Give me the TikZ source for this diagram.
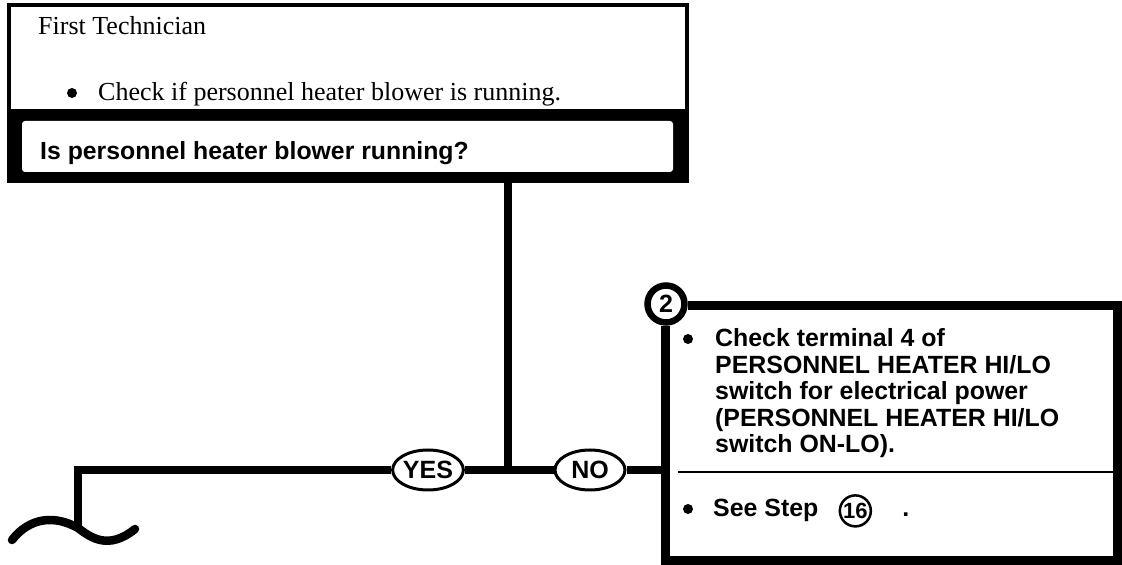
\documentclass[tikz,border=0pt]{standalone}
\usepackage{fontspec}
\setmainfont{Liberation Serif}
\setsansfont{Liberation Sans}
\usetikzlibrary{positioning, calc, shapes.geometric, backgrounds}

\begin{document}
\begin{tikzpicture}[
  x=1pt, y=1pt,
  conn/.style    ={line width=8.5pt, draw=black},
  taskbox/.style ={rectangle, draw=black, line width=3.5pt, minimum width=678pt, minimum height=106pt, inner sep=0pt},
  querybox/.style={rectangle, rounded corners=3pt, fill=white, minimum width=651pt, minimum height=51pt, inner sep=0pt},
  answer/.style  ={ellipse, draw=black, line width=3pt, fill=white, minimum width=70pt, minimum height=40pt, inner sep=0pt, font=\sffamily\bfseries\fontsize{25}{25}\selectfont},
  stepnum/.style ={circle, draw=black, line width=6.5pt, fill=white, minimum size=37pt, inner sep=0pt, font=\sffamily\bfseries\fontsize{25}{25}\selectfont},
  refnum/.style  ={circle, draw=black, line width=2.5pt, minimum size=31pt, inner sep=0pt, font=\sffamily\bfseries\fontsize{22}{22}\selectfont},
  dotmark/.style ={circle, fill=black, minimum size=10pt, inner sep=0pt},
  plaintxt/.style={anchor=base west, inner sep=0pt, font=\rmfamily\fontsize{26}{30}\selectfont},
  querytxt/.style={anchor=base west, inner sep=0pt, font=\sffamily\bfseries\fontsize{24.8}{28}\selectfont},
  boldtxt/.style ={anchor=base west, inner sep=0pt, font=\sffamily\bfseries\fontsize{24.9}{26.5}\selectfont},
  rule/.style    ={line width=1.5pt, draw=black}
]
\useasboundingbox (0,0) rectangle (1122,565);

% ---- first technician task + question ----
\node[taskbox] (task) at (348,507) {};
\node[plaintxt] (who) at (38,530) {First Technician};
\node[dotmark] (taskdot) at (72,472) {};
\node[plaintxt] (tasktxt) at (98,464) {Check if personnel heater blower is running.};

\node[querybox] (query) at (347.5,418.5) {};
\begin{scope}[on background layer]
  \fill[black] ($(query.north west)+(-14.5,11)$) rectangle ($(query.south east)+(16,-11)$);
\end{scope}
\node[querytxt] (qtxt) at (40,405) {Is personnel heater blower running?};

% ---- answers ----
\coordinate (jn) at (508,95);
\coordinate (brk) at (78,37);
\node[answer] (yes) at (428,95) {YES};
\node[answer] (no)  at (590,95) {NO};

% ---- step 2 ----
\node[rectangle, minimum width=451pt, minimum height=254pt, inner sep=0pt] (step2) at (891.5,132) {};
\node[stepnum] (num) at (666,261) {2};

\node[dotmark] (dot1) at (688,226) {};
\node[boldtxt, align=left] (checktxt) at (715,112)
  {Check terminal 4 of\\PERSONNEL HEATER HI/LO\\switch for electrical power\\(PERSONNEL HEATER HI/LO\\switch ON-LO).};
\draw[rule] (678,93) -- (1113,93);
\node[dotmark] (dot2) at (688,56) {};
\node[boldtxt] (seetxt) at (713,48) {See Step};
\node[refnum, right=20pt of seetxt] (ref16) {16};
\node[boldtxt] (stop) at ($(ref16.east |- seetxt.base)+(30,0)$) {.};

% ---- edges ----
\draw[conn] (query.south -| jn) -- (jn);
\draw[conn] (jn) -- (yes);
\draw[conn] (jn) -- (no);
\draw[conn] (no) -- (no -| step2.west);
\draw[conn] (yes) -| (brk);
\draw[conn, line cap=round] (12,25) .. controls (30,48) and (55,50) .. (brk) .. controls (90,28) and (108,14) .. (135,36);
\draw[conn, line width=9pt] (num.east |- step2.north) -- (step2.north east) -- (step2.south east)
  -- (step2.south west) -- (step2.west |- num.south);

\end{tikzpicture}
\end{document}
